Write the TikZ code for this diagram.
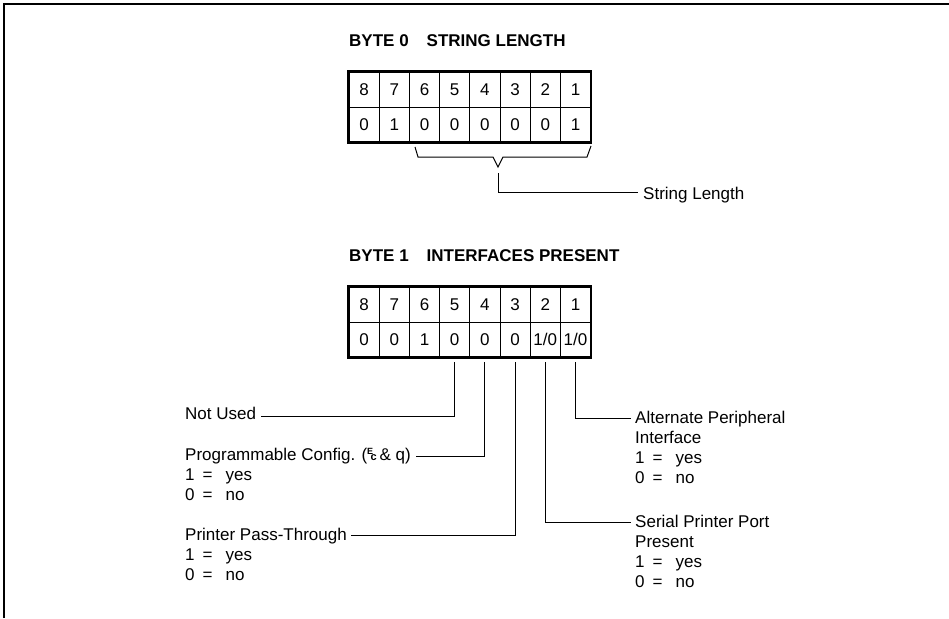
\documentclass[tikz,border=0pt]{standalone}
\usepackage{fontspec}
\usepackage{graphicx}
\setmainfont{Liberation Sans}
\newcommand\escsym{{\fontsize{9}{9}\selectfont\bfseries\raisebox{5.5pt}{E}}\kern-2.5pt{\fontsize{11}{11}\selectfont\bfseries c}}
\newcommand\oneyes{1\hspace{8pt}=\hspace{13pt}yes}
\newcommand\zerono{0\hspace{8pt}=\hspace{13pt}no}
\begin{document}
\begin{tikzpicture}[x=1pt,y=-1pt,
  lab/.style={anchor=base west,inner sep=0pt,font=\fontsize{17}{20}\selectfont},
  ttl/.style={anchor=base west,inner sep=0pt,font=\fontsize{17}{20}\selectfont\bfseries},
  cell/.style={draw,line width=0.9pt,minimum width=30.2pt,minimum height=35pt,inner sep=0pt,font=\fontsize{17}{20}\selectfont},
  outer/.style={line width=2.6pt},
  conn/.style={line width=1pt}]
\useasboundingbox (0,0) rectangle (949,618);
% frame
\draw[line width=1.6pt] (4,618) -- (4,4) -- (949,4);

% BYTE 0
\node[ttl] (title0) at (349,47) {BYTE 0\hspace{18pt}STRING LENGTH};
\foreach \i in {1,...,8} {
  \node[cell] (t0-\i) at ({349+30.2*(\i-0.5)},89.5) {\the\numexpr9-\i\relax};
}
\foreach \v [count=\i] in {0,1,0,0,0,0,0,1} {
  \node[cell] (b0-\i) at ({349+30.2*(\i-0.5)},124.5) {\v};
}
\draw[outer] (t0-1.north west) rectangle (b0-8.south east);
% brace
\coordinate (bl) at (415,147);
\coordinate (br) at (591,146);
\coordinate (tip) at (498,167);
\draw[conn] (bl) -- (418,157) -- (493,157) -- (tip) -- (503,157) -- (587,157) -- (br);
\node[lab] (strlen) at (643,199) {String Length};
\draw[conn] ([yshift=-6pt]tip) |- ([shift={(-5,-7)}]strlen.base west);

% BYTE 1
\node[ttl] (title1) at (349,261) {BYTE 1\hspace{18pt}INTERFACES PRESENT};
\foreach \i in {1,...,8} {
  \node[cell] (t1-\i) at ({349+30.2*(\i-0.5)},304.5) {\the\numexpr9-\i\relax};
}
\foreach \v [count=\i] in {0,0,1,0,0,0,1/0,1/0} {
  \node[cell] (b1-\i) at ({349+30.2*(\i-0.5)},339.5) {\v};
}
\draw[outer] (t1-1.north west) rectangle (b1-8.south east);

% left labels
\node[lab] (notused) at (185,419) {Not Used};
\node[lab] (prog) at (185,460) {Programmable Config. (\escsym\,\& q)};
\node[lab] (prog1) at (185,480) {\oneyes};
\node[lab] (prog0) at (185,500) {\zerono};
\node[lab] (pass) at (185,540) {Printer Pass-Through};
\node[lab] (pass1) at (185,560) {\oneyes};
\node[lab] (pass0) at (185,580) {\zerono};

% right labels
\node[lab] (alt) at (635,423) {Alternate Peripheral};
\node[lab] (alt2) at (635,443) {Interface};
\node[lab] (alt1) at (635,463) {\oneyes};
\node[lab] (alt0) at (635,483) {\zerono};
\node[lab] (ser) at (635,527) {Serial Printer Port};
\node[lab] (ser2) at (635,547) {Present};
\node[lab] (ser1) at (635,567) {\oneyes};
\node[lab] (ser0) at (635,587) {\zerono};

% connectors
\draw[conn] ([yshift=-5pt]b1-4.south) |- ([shift={(5,-3)}]notused.base east);
\draw[conn] ([yshift=-5pt]b1-5.south) |- ([shift={(5,-4)}]prog.base east);
\draw[conn] ([yshift=-5pt]b1-6.south) |- ([shift={(4,-5)}]pass.base east);
\draw[conn] ([yshift=-5pt]b1-7.south) |- ([shift={(-4,-5)}]ser.base west);
\draw[conn] ([yshift=-5pt]b1-8.south) |- ([shift={(-4,-5)}]alt.base west);
\end{tikzpicture}
\end{document}
